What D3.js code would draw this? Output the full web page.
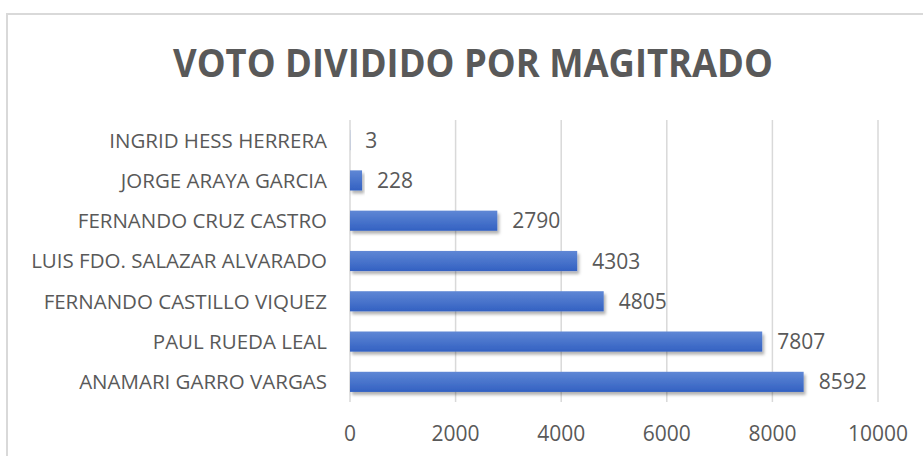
<!DOCTYPE html>
<html>
<head>
<meta charset="utf-8">
<script src="https://cdn.jsdelivr.net/npm/d3@7"></script>
<style>
  html, body { margin: 0; padding: 0; background: #fff; }
  svg { display: block; font-family: "Open Sans", "Noto Sans", sans-serif; }
</style>
</head>
<body>
<svg id="chart"></svg>
<script>
// 数据
const categories = [
  'INGRID HESS HERRERA',
  'JORGE ARAYA GARCIA',
  'FERNANDO CRUZ CASTRO',
  'LUIS FDO. SALAZAR ALVARADO',
  'FERNANDO CASTILLO VIQUEZ',
  'PAUL RUEDA LEAL',
  'ANAMARI GARRO VARGAS'
];
const votes = [3, 228, 2790, 4303, 4805, 7807, 8592];
const xTicks = [0, 2000, 4000, 6000, 8000, 10000];
const title = 'VOTO DIVIDIDO POR MAGITRADO';

const width = 923;
const height = 456;
const textColor = '#595959';
const gridColor = '#d9d9d9';

const svg = d3.select('#chart')
  .attr('width', width)
  .attr('height', height);

// 柱子渐变和阴影
const defs = svg.append('defs');
const grad = defs.append('linearGradient')
  .attr('id', 'barFill')
  .attr('x1', 0).attr('y1', 0).attr('x2', 0).attr('y2', 1);
grad.append('stop').attr('offset', '0%').attr('stop-color', '#5f87d5');
grad.append('stop').attr('offset', '100%').attr('stop-color', '#3361c2');

const shadow = defs.append('filter')
  .attr('id', 'barShadow')
  .attr('x', '-10%').attr('y', '-30%')
  .attr('width', '130%').attr('height', '190%');
shadow.append('feDropShadow')
  .attr('dx', 2).attr('dy', 3)
  .attr('stdDeviation', 1.8)
  .attr('flood-color', '#000')
  .attr('flood-opacity', 0.3);

// 图表边框
svg.append('rect')
  .attr('x', 7).attr('y', 14)
  .attr('width', 1000).attr('height', 1000)
  .attr('fill', '#fff')
  .attr('stroke', gridColor)
  .attr('stroke-width', 2);

// 标题
svg.append('text')
  .attr('x', 473)
  .attr('y', 77)
  .attr('text-anchor', 'middle')
  .attr('font-size', 40)
  .attr('font-weight', 700)
  .attr('fill', textColor)
  .attr('textLength', 600)
  .attr('lengthAdjust', 'spacingAndGlyphs')
  .text(title);

// 比例尺
const x = d3.scaleLinear()
  .domain([0, 10000])
  .range([350, 878]);

const y = d3.scaleBand()
  .domain(categories)
  .range([120, 402])
  .paddingInner(0.5)
  .paddingOuter(0.25);

// 网格线
svg.append('g')
  .selectAll('line')
  .data(xTicks)
  .join('line')
  .attr('x1', d => x(d)).attr('x2', d => x(d))
  .attr('y1', 120).attr('y2', 402)
  .attr('stroke', gridColor)
  .attr('stroke-width', 1.5);

// x 轴刻度标签
svg.append('g')
  .selectAll('text')
  .data(xTicks)
  .join('text')
  .attr('x', d => x(d))
  .attr('y', 441)
  .attr('text-anchor', 'middle')
  .attr('font-size', 21)
  .attr('fill', textColor)
  .text(d => d);

// 类别标签
svg.append('g')
  .selectAll('text')
  .data(categories)
  .join('text')
  .attr('x', 327)
  .attr('y', d => y(d) + y.bandwidth() / 2)
  .attr('dy', '0.36em')
  .attr('text-anchor', 'end')
  .attr('font-size', 20.5)
  .attr('fill', textColor)
  .text(d => d);

// 柱子
const rows = categories.map((c, i) => ({ name: c, value: votes[i] }));

svg.append('g')
  .selectAll('rect')
  .data(rows)
  .join('rect')
  .attr('x', x(0))
  .attr('y', d => y(d.name))
  .attr('width', d => x(d.value) - x(0))
  .attr('height', y.bandwidth())
  .attr('fill', 'url(#barFill)')
  .attr('filter', 'url(#barShadow)');

// 数值标签
svg.append('g')
  .selectAll('text')
  .data(rows)
  .join('text')
  .attr('x', d => x(d.value) + 15)
  .attr('y', d => y(d.name) + y.bandwidth() / 2)
  .attr('dy', '0.36em')
  .attr('font-size', 21)
  .attr('fill', textColor)
  .text(d => d.value);
</script>
</body>
</html>
